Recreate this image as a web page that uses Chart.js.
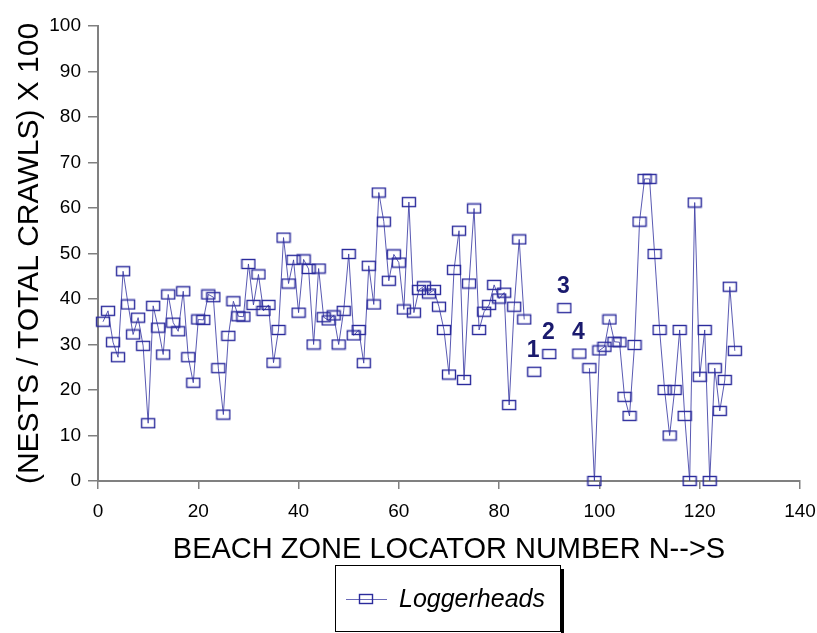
<!DOCTYPE html>
<html>
<head>
<meta charset="utf-8">
<script src="https://cdn.jsdelivr.net/npm/chart.js@4"></script>
<style>
  html, body { margin: 0; padding: 0; background: #fff; }
</style>
</head>
<body>
<canvas id="chart" width="817" height="633"></canvas>
<script>
// zona 1 .. 127, null = sem dados
var firstZone = 1;
var ratios = [
    35, 37.4, 30.5, 27.2, 46.1, 38.8, 32.2, 35.9, 29.7, 12.7,
    38.5, 33.7, 27.8, 41, 34.8, 32.9, 41.7, 27.2, 21.6, 35.5,
    35.4, 41, 40.4, 24.8, 14.6, 31.9, 39.5, 36.2, 36.1, 47.7,
    38.7, 45.4, 37.4, 38.7, 26, 33.2, 53.5, 43.4, 48.6, 37,
    48.7, 46.6, 30, 46.7, 36, 35.3, 36.4, 30, 37.4, 49.9,
    32, 33.2, 25.9, 47.3, 38.8, 63.4, 57, 44, 49.8, 48,
    37.7, 61.3, 37, 42, 42.8, 41.2, 42, 38.3, 33.2, 23.4,
    46.4, 55, 22.2, 43.4, 59.9, 33.2, 37.2, 38.7, 43.1, 40.1,
    41.4, 16.7, 38.3, 53.1, 35.5, null, 24, null, null, 27.9,
    null, null, 38, null, null, 28, null, 24.8, 0, 28.7,
    29.5, 35.5, 30.6, 30.5, 18.5, 14.3, 29.9, 57, 66.4, 66.4,
    49.9, 33.2, 20, 10, 20, 33.2, 14.3, 0, 61.2, 22.9,
    33.2, 0, 24.8, 15.4, 22.2, 42.7, 28.6
];

// pontos isolados numerados
var noteZones = [87, 90, 93, 96];
var noteTexts = ["1", "2", "3", "4"];

var seriesName = "Loggerheads";
var xTitle = "BEACH ZONE LOCATOR NUMBER N-->S";
var yTitle = "(NESTS / TOTAL CRAWLS) X 100";

var FONT = "'Liberation Sans', Arial, sans-serif";
var NAVY = "#2b2b9c";

function makeMarker() {
    var c = document.createElement("canvas");
    c.width = 16;
    c.height = 12;
    var g = c.getContext("2d");
    g.strokeStyle = NAVY;
    g.lineWidth = 1.4;
    g.strokeRect(1.5, 1.5, 13, 9);
    return c;
}
var marker = makeMarker();

var points = [];
for (var i = 0; i < ratios.length; i++) {
    points.push({ x: firstZone + i, y: ratios[i] });
}

// numeros acima dos pontos isolados
var notesPlugin = {
    id: "notes",
    afterDatasetsDraw: function (chart) {
        var ctx = chart.ctx;
        var xs = chart.scales.x, ys = chart.scales.y;
        ctx.save();
        ctx.font = "bold 23px " + FONT;
        ctx.fillStyle = "#1a1a6e";
        ctx.textAlign = "center";
        ctx.textBaseline = "middle";
        for (var k = 0; k < noteZones.length; k++) {
            var v = ratios[noteZones[k] - firstZone];
            ctx.fillText(noteTexts[k], xs.getPixelForValue(noteZones[k]) - 1, ys.getPixelForValue(v) - 21);
        }
        ctx.restore();
    }
};

// legenda com caixa e sombra
var legendPlugin = {
    id: "boxLegend",
    afterDraw: function (chart) {
        var ctx = chart.ctx;
        ctx.save();
        ctx.fillStyle = "#000";
        ctx.fillRect(561, 569, 3, 64);
        ctx.strokeStyle = "#000";
        ctx.lineWidth = 1;
        ctx.strokeRect(335.5, 565.5, 225, 66);
        ctx.strokeStyle = "#6a6ab8";
        ctx.beginPath();
        ctx.moveTo(346, 599.5);
        ctx.lineTo(387, 599.5);
        ctx.stroke();
        ctx.drawImage(marker, 366 - 8, 599 - 6);
        ctx.font = "italic 25px " + FONT;
        ctx.fillStyle = "#000";
        ctx.textAlign = "left";
        ctx.textBaseline = "middle";
        ctx.fillText(seriesName, 399, 600);
        ctx.restore();
    }
};

var ctx = document.getElementById("chart").getContext("2d");
var chart = new Chart(ctx, {
    type: "line",
    data: {
        datasets: [{
            label: seriesName,
            data: points,
            borderColor: "rgba(60,60,165,0.85)",
            borderWidth: 1,
            pointStyle: marker,
            pointRadius: 6,
            pointHoverRadius: 6,
            tension: 0,
            spanGaps: false,
            clip: false
        }]
    },
    options: {
        responsive: false,
        animation: false,
        devicePixelRatio: 1,
        layout: { padding: { top: 26, right: 17, bottom: 66, left: 0 } },
        plugins: {
            legend: { display: false },
            tooltip: { enabled: false }
        },
        scales: {
            x: {
                type: "linear",
                min: 0,
                max: 140,
                afterFit: function (s) {
                    s.height = 86;
                    s.paddingLeft = 0;
                    s.paddingRight = 0;
                },
                ticks: { stepSize: 20, color: "#000", font: { family: FONT, size: 19 }, padding: 11, maxRotation: 0 },
                grid: { drawOnChartArea: false, drawTicks: true, tickLength: 8, color: "#808080", lineWidth: 1.5 },
                border: { color: "#808080", width: 2 },
                title: { display: true, text: xTitle, color: "#000", font: { family: FONT, size: 29 }, padding: 0 }
            },
            y: {
                min: 0,
                max: 100,
                afterFit: function (s) { s.width = 98; },
                ticks: { stepSize: 10, color: "#000", font: { family: FONT, size: 19 }, padding: 7 },
                grid: { drawOnChartArea: false, drawTicks: true, tickLength: 10, color: "#808080", lineWidth: 1.5 },
                border: { color: "#808080", width: 2 },
                title: { display: true, text: yTitle, color: "#000", font: { family: FONT, size: 30 }, padding: { top: 12, bottom: 0 } }
            }
        }
    },
    plugins: [notesPlugin, legendPlugin]
});
</script>
</body>
</html>
